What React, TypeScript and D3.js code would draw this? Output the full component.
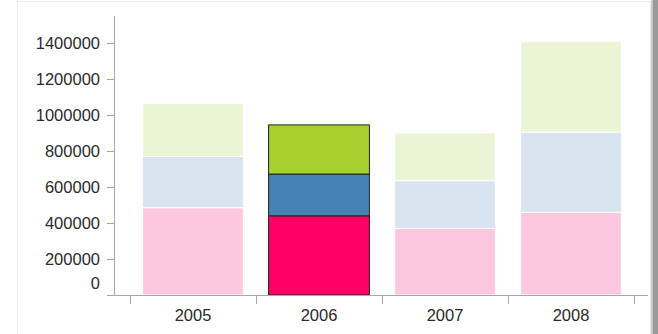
import React from "react";
import * as d3 from "d3";

const years = ["2005", "2006", "2007", "2008"];
const seriesA = [485000, 440000, 370000, 460000];
const seriesB = [285000, 232000, 265000, 445000];
const seriesC = [295000, 273000, 265000, 505000];
const yTicks = [0, 200000, 400000, 600000, 800000, 1000000, 1200000, 1400000];
const highlighted = "2006";

const fadedColors = ["#fdc8df", "#d8e4f0", "#ebf5d6"];
const strongColors = ["#ff0066", "#4682b4", "#a6d12e"];

export default function App() {
  const W = 658, H = 334;
  const x = d3.scaleBand<string>().domain(years).range([130, 634]).padding(0);
  const y = d3.scaleLinear().domain([0, 1400000]).range([295, 43]);
  const table = years.map((yr, i) => ({ year: yr, a: seriesA[i], b: seriesB[i], c: seriesC[i] }));
  const stack = d3.stack<any>().keys(["a", "b", "c"])(table);
  const barW = x.bandwidth() * 0.8;
  const font = "'Liberation Sans', Arial, sans-serif";
  const axisColor = "#a8a8a8";
  const fs = 16.5;

  return (
    <svg width={W} height={H} style={{ position: "absolute", left: 0, top: 0 }}>
      <rect x={0} y={0} width={W} height={H} fill="#fff" />
      <rect x={17.5} y={1.5} width={633} height={340} fill="none" stroke="#ececec" />
      <rect x={651} y={0} width={7} height={H} fill="#9a9a9a" />
      <rect x={651} y={0} width={2} height={H} fill="#c8c8c8" />
      {stack.map((layer, li) =>
        layer.map((d, i) => {
          const yr = years[i];
          const hi = yr === highlighted;
          const x0 = (x(yr) as number) + (x.bandwidth() - barW) / 2;
          return (
            <rect
              key={`${li}-${i}`}
              x={x0}
              y={y(d[1])}
              width={barW}
              height={y(d[0]) - y(d[1])}
              fill={hi ? strongColors[li] : fadedColors[li]}
              stroke={hi ? "#222" : "#fff"}
              strokeWidth={1}
            />
          );
        })
      )}
      {/* y axis */}
      <line x1={114.5} x2={114.5} y1={16} y2={295} stroke={axisColor} />
      {yTicks.map((t) => (
        <g key={t}>
          {t !== 0 && <line x1={107} x2={114} y1={y(t) + 0.5} y2={y(t) + 0.5} stroke={axisColor} />}
          <text
            x={100}
            y={t === 0 ? y(t) - 12 : y(t)}
            dy="0.36em"
            textAnchor="end"
            fontFamily={font}
            fontSize={fs}
            fill="#2a2a2a"
          >
            {t}
          </text>
        </g>
      ))}
      {/* x axis */}
      <line x1={107} x2={648} y1={295.5} y2={295.5} stroke={axisColor} />
      {[...years.map((yr) => x(yr) as number), 634].map((p, i) => (
        <line key={i} x1={p + 0.5} x2={p + 0.5} y1={296} y2={304} stroke={axisColor} />
      ))}
      {years.map((yr) => (
        <text
          key={yr}
          x={(x(yr) as number) + x.bandwidth() / 2}
          y={321}
          textAnchor="middle"
          fontFamily={font}
          fontSize={fs}
          fill="#2a2a2a"
        >
          {yr}
        </text>
      ))}
    </svg>
  );
}
